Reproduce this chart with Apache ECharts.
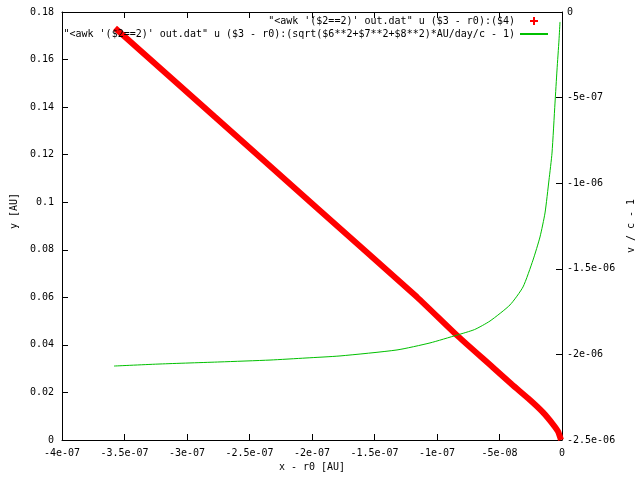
<!DOCTYPE html>
<html>
<head>
<meta charset="utf-8">
<script src="https://cdn.jsdelivr.net/npm/echarts@6/dist/echarts.min.js"></script>
<style>html,body{margin:0;padding:0;background:#fff;}#c{width:640px;height:480px;}</style>
</head>
<body>
<div id="c"></div>
<script>
// ---- data ----
const seriesNames = [
  "\"<awk '($2==2)' out.dat\" u ($3 - r0):($4)",
  "\"<awk '($2==2)' out.dat\" u ($3 - r0):(sqrt($6**2+$7**2+$8**2)*AU/day/c - 1)"
];
const redX = [-3.576e-7, -2.776e-7, -1.96e-7, -1.16e-7, -8.4e-8, -5.52e-8, -4.0e-8, -2.56e-8, -1.52e-8, -7.2e-9, -3.2e-9, -8e-10];
const redY = [0.1733, 0.1358, 0.0976, 0.0601, 0.0440, 0.0305, 0.0233, 0.0168, 0.0116, 0.0066, 0.0036, 0.0];
const greenX = [-3.584e-7, -3.216e-7, -2.736e-7, -2.336e-7, -2.048e-7, -1.776e-7, -1.32e-7, -1.056e-7, -8.4e-8, -7.0e-8, -5.76e-8, -4.16e-8, -3.12e-8, -2.32e-8, -1.76e-8, -1.36e-8, -1.04e-8, -8.0e-9, -5.6e-9, -4.0e-9, -2.4e-9, -1.6e-9];
const greenV = [-2.068e-6, -2.056e-6, -2.044e-6, -2.033e-6, -2.021e-6, -2.009e-6, -1.974e-6, -1.933e-6, -1.887e-6, -1.855e-6, -1.805e-6, -1.711e-6, -1.606e-6, -1.449e-6, -1.314e-6, -1.174e-6, -0.981e-6, -0.824e-6, -0.532e-6, -0.339e-6, -0.164e-6, -0.058e-6];
const xTickLabels = ['-4e-07','-3.5e-07','-3e-07','-2.5e-07','-2e-07','-1.5e-07','-1e-07','-5e-08','0'];
const yTickLabels = ['0','0.02','0.04','0.06','0.08','0.1','0.12','0.14','0.16','0.18'];
const y2TickLabels = ['-2.5e-06','-2e-06','-1.5e-06','-1e-06','-5e-07','0'];
const xTitle = 'x - r0 [AU]';
const yTitle = 'y [AU]';
const y2Title = 'v / c - 1';

// ---- chart ----
const xMin = -4e-7, xMax = 0, xStep = 5e-8;
const yMin = 0, yMax = 0.18, yStep = 0.02;
const y2Min = -2.5e-6, y2Max = 0, y2Step = 5e-7;
const font = 'DejaVu Sans Mono';
const pick = (arr, v, min, step) => { const i = Math.round((v - min) / step); return arr[i] !== undefined ? arr[i] : ''; };

const chart = echarts.init(document.getElementById('c'), null, {renderer: 'canvas'});
const axLine = () => ({show: true, onZero: false, lineStyle: {color: '#000', width: 1}});
const tick = () => ({show: true, inside: true, length: 6, lineStyle: {color: '#000', width: 1}});
const lbl = () => ({fontFamily: font, fontSize: 10, color: '#000'});

chart.setOption({
  animation: false,
  backgroundColor: '#fff',
  grid: {left: 62, right: 78, top: 12, bottom: 40, containLabel: false, outerBoundsMode: 'none'},
  legend: [
    {data: [{name: seriesNames[0], icon: 'path://M0,4L0,4M28,4L28,4M13,0H15V3H18V5H15V8H13V5H10V3H13Z'}],
     right: 92, top: 16, padding: 0, align: 'right', itemWidth: 28, itemHeight: 8,
     textStyle: {fontFamily: font, fontSize: 10, color: '#000'}, selectedMode: false},
    {data: [{name: seriesNames[1], icon: 'rect'}],
     right: 92, top: 29, padding: 0, align: 'right', itemWidth: 28, itemHeight: 2,
     textStyle: {fontFamily: font, fontSize: 10, color: '#000'}, selectedMode: false}
  ],
  xAxis: [
    {type: 'value', position: 'bottom', min: xMin, max: xMax, interval: xStep,
     name: xTitle, nameLocation: 'middle', nameGap: 14, nameTextStyle: lbl(),
     axisLine: axLine(), axisTick: tick(), splitLine: {show: false},
     axisLabel: Object.assign({margin: 8, formatter: v => pick(xTickLabels, v, xMin, xStep)}, lbl())},
    {type: 'value', position: 'top', min: xMin, max: xMax, interval: xStep,
     axisLine: axLine(), axisTick: tick(), splitLine: {show: false}, axisLabel: {show: false}}
  ],
  yAxis: [
    {type: 'value', position: 'left', min: yMin, max: yMax, interval: yStep,
     name: yTitle, nameLocation: 'middle', nameGap: 43, nameRotate: 90,
     nameTextStyle: Object.assign({padding: [0, 0, 0, 30]}, lbl()),
     axisLine: axLine(), axisTick: tick(), splitLine: {show: false},
     axisLabel: Object.assign({margin: 8, formatter: v => pick(yTickLabels, v, yMin, yStep)}, lbl())},
    {type: 'value', position: 'right', min: y2Min, max: y2Max, interval: y2Step,
     name: y2Title, nameLocation: 'middle', nameGap: 60, nameRotate: 90, nameTextStyle: lbl(),
     axisLine: axLine(), axisTick: tick(), splitLine: {show: false},
     axisLabel: Object.assign({margin: 5, formatter: v => pick(y2TickLabels, v, y2Min, y2Step)}, lbl())}
  ],
  series: [
    {name: seriesNames[0], type: 'line', xAxisIndex: 0, yAxisIndex: 0,
     data: redX.map((x, i) => [x, redY[i]]), showSymbol: false, symbol: 'none',
     smooth: 0.2,
     itemStyle: {color: '#ff0000'}, lineStyle: {color: '#ff0000', width: 6}},
    {name: seriesNames[1], type: 'line', xAxisIndex: 0, yAxisIndex: 1,
     data: greenX.map((x, i) => [x, greenV[i]]), showSymbol: false, symbol: 'none',
     smooth: 0.2,
     itemStyle: {color: '#00c000'}, lineStyle: {color: '#00c000', width: 1}}
  ]
});
</script>
</body>
</html>
